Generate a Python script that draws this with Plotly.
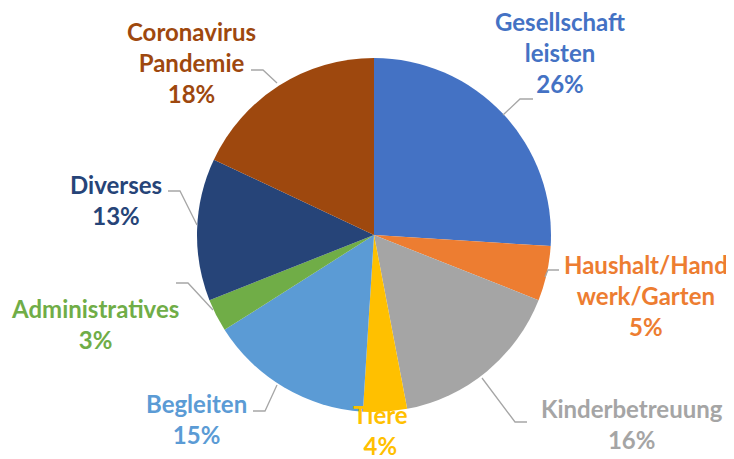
import plotly.graph_objects as go

categories = ["Gesellschaft leisten", "Haushalt/Handwerk/Garten", "Kinderbetreuung", "Tiere",
              "Begleiten", "Administratives", "Diverses", "Coronavirus Pandemie"]
values = [26, 5, 16, 4, 15, 3, 13, 18]
label_texts = ["Gesellschaft<br>leisten<br>26%", "Haushalt/Hand<br>werk/Garten<br>5%",
               "Kinderbetreuung<br>16%", "Tiere<br>4%", "Begleiten<br>15%",
               "Administratives<br>3%", "Diverses<br>13%", "Coronavirus<br>Pandemie<br>18%"]
colors = ["#4472C4", "#ED7D31", "#A5A5A5", "#FFC000", "#5B9BD5", "#70AD47", "#264478", "#9E480E"]

W, H = 734, 459
OFF = 8  # page body margin offset
cx, cy, r = 374 - OFF, 235 - OFF, 177


def px(x, y):
    return (x - OFF) / W, 1 - (y - OFF) / H


fig = go.Figure(go.Pie(
    labels=categories, values=values, sort=False, direction="clockwise", rotation=0,
    marker=dict(colors=colors, line=dict(width=0)),
    textinfo="none", hoverinfo="label+percent", showlegend=False,
    domain=dict(x=[(cx - r) / W, (cx + r) / W], y=[1 - (cy + r) / H, 1 - (cy - r) / H]),
))

# label centres and leader lines, in page pixels of the reference
label_pos = [(560, 53), (646, 295), (632, 424), (380, 430), (196, 419), (95, 324), (116, 200), (191, 63)]
leaders = [
    [(533, 99), (520, 99), (503, 115)],
    [(559, 270), (548, 270), (545, 277)],
    [(527, 422), (515, 422), (482, 378)],
    None,
    [(253, 411), (265, 411), (277, 385)],
    [(176, 283), (188, 283), (213, 310)],
    [(168, 191), (180, 191), (197, 225)],
    [(251, 70), (263, 70), (277, 83)],
]

shapes = []
for pts in leaders:
    if not pts:
        continue
    path = "M " + " L ".join("{:.5f},{:.5f}".format(*px(x, y)) for x, y in pts)
    shapes.append(dict(type="path", path=path, xref="paper", yref="paper",
                       line=dict(color="#A6A6A6", width=1.3)))

annotations = []
for (x, y), txt, col in zip(label_pos, label_texts, colors):
    ax, ay = px(x, y)
    bold = "<b>" + txt.replace("<br>", "</b><br><b>") + "</b>"
    annotations.append(dict(x=ax, y=ay, xref="paper", yref="paper", text=bold,
                            showarrow=False, xanchor="center", yanchor="middle",
                            font=dict(family="Lato", size=24, color=col)))

fig.update_layout(
    width=W, height=H, margin=dict(l=0, r=0, t=0, b=0),
    paper_bgcolor="white", plot_bgcolor="white",
    shapes=shapes, annotations=annotations,
)

fig.write_html("out.html")
